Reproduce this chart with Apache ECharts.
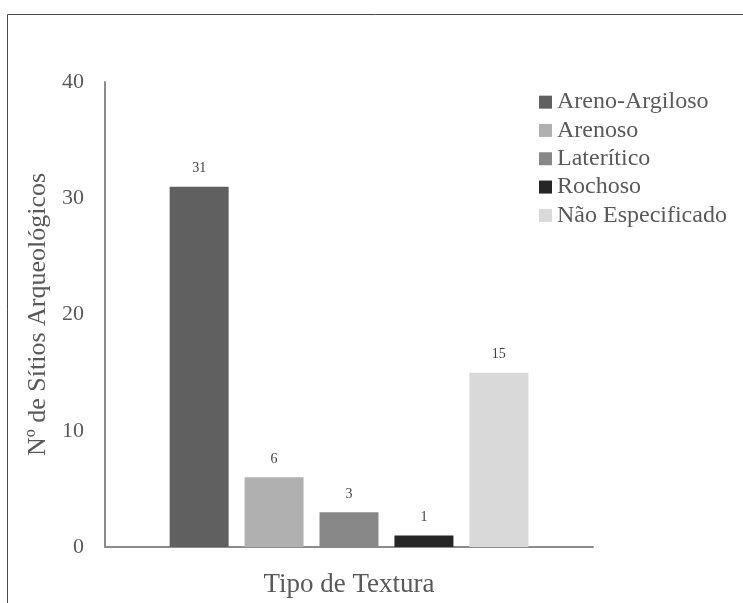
<!DOCTYPE html>
<html>
<head>
<meta charset="utf-8">
<title>Tipo de Textura</title>
<script src="https://cdn.jsdelivr.net/npm/echarts@6/dist/echarts.min.js"></script>
<style>
  html, body { margin: 0; padding: 0; background: #fff; }
  #chart { width: 743px; height: 603px; }
</style>
</head>
<body>
<div id="chart"></div>
<script>
// Soil texture types and number of archaeological sites for each
const seriesNames = ['Areno-Argiloso', 'Arenoso', 'Laterítico', 'Rochoso', 'Não Especificado'];
const siteCounts = [31, 6, 3, 1, 15];
const barColors = ['#606060', '#b0b0b0', '#888888', '#262626', '#d9d9d9'];
const yTicks = [0, 10, 20, 30, 40];

const FONT = "'Liberation Serif', 'Times New Roman', serif";
const TEXT = '#595959';

const chart = echarts.init(document.getElementById('chart'), null, { renderer: 'canvas' });

const series = seriesNames.map((name, i) => ({
  name: name,
  type: 'bar',
  data: [siteCounts[i]],
  barWidth: 59,
  barGap: '27%',
  itemStyle: { color: barColors[i] },
  label: {
    show: true,
    position: 'top',
    distance: 11,
    fontFamily: FONT,
    fontSize: 14,
    color: '#404040'
  }
}));

chart.setOption({
  animation: false,
  backgroundColor: '#fff',
  graphic: [{
    type: 'rect',
    shape: { x: 7.5, y: 14.5, width: 800, height: 700 },
    style: { fill: 'none', stroke: '#4a4a4a', lineWidth: 1 },
    silent: true
  }],
  grid: { left: 105, top: 82, width: 488, height: 468 },
  legend: {
    orient: 'vertical',
    left: 539,
    top: 90,
    padding: 0,
    itemWidth: 13,
    itemHeight: 13,
    itemGap: 4,
    icon: 'rect',
    textStyle: { fontFamily: FONT, fontSize: 24, color: TEXT, lineHeight: 24.3 },
    data: seriesNames
  },
  xAxis: {
    type: 'category',
    data: [''],
    name: 'Tipo de Textura',
    nameLocation: 'middle',
    nameGap: 24,
    nameTextStyle: { fontFamily: FONT, fontSize: 27, color: TEXT },
    axisLine: { lineStyle: { color: '#8c8c8c', width: 2 } },
    axisTick: { show: false },
    axisLabel: { show: false }
  },
  yAxis: {
    type: 'value',
    min: yTicks[0],
    max: yTicks[yTicks.length - 1],
    interval: 10,
    name: 'Nº de Sítios Arqueológicos',
    nameLocation: 'middle',
    nameGap: 54,
    nameTextStyle: { fontFamily: FONT, fontSize: 26, color: TEXT },
    axisLine: { show: true, lineStyle: { color: '#8c8c8c', width: 2 } },
    axisTick: { show: false },
    splitLine: { show: false },
    axisLabel: { fontFamily: FONT, fontSize: 22, color: TEXT, margin: 21 }
  },
  series: series
});
</script>
</body>
</html>
